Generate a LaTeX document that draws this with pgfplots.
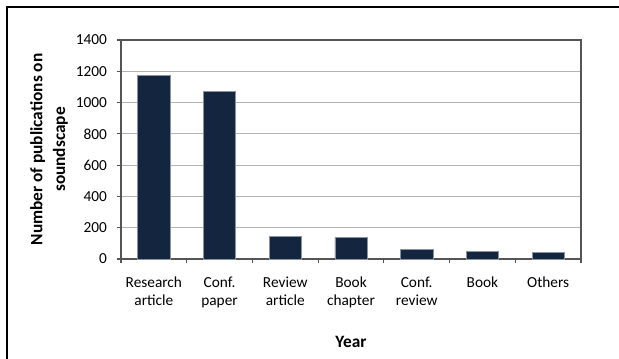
\documentclass[border=0pt]{standalone}
\usepackage{pgfplots}
\pgfplotsset{compat=1.18}
\usepackage{fontspec}
\setmainfont{Carlito}
\definecolor{barc}{HTML}{14253F}
\definecolor{gridc}{HTML}{B3B3B3}
\definecolor{axc}{HTML}{555555}
\begin{document}
\begin{tikzpicture}
\draw[line width=1.5pt,black] (5.25pt,263.25pt) rectangle (480pt,-15pt);
\begin{axis}[
  at={(90.75pt,74.25pt)}, anchor=south west,
  scale only axis, width=345pt, height=164.25pt,
  font=\fontsize{11.5}{13.5}\selectfont,
  /pgf/number format/assume math mode=true,
  /pgf/number format/1000 sep={},
  ybar, bar width=0.49,
  xmin=-0.5, xmax=6.5, ymin=0, ymax=1400,
  ytick={0,200,...,1400},
  xtick={0,...,6},
  xticklabels={Research\\article, Conf.\\paper, Review\\article, Book\\chapter, Conf.\\review, Book, Others},
  xticklabel style={align=center, yshift=-7pt},
  minor xtick={-0.5,0.5,...,6.5},
  xtick pos=bottom, ytick pos=left,
  xtick style={draw=none},
  minor x tick style={draw=axc, line width=0.8pt},
  ytick style={draw=axc, line width=0.8pt},
  tick align=outside, major tick length=3pt, minor tick length=3pt,
  ymajorgrids, grid style={gridc, line width=0.8pt},
  axis line style={axc, line width=0.8pt},
  ylabel={Number of publications on\\soundscape},
  ylabel style={font=\fontsize{13}{17}\selectfont\bfseries, align=center, at={(axis description cs:-0.1565,0.5)}, anchor=center},
  xlabel={Year},
  xlabel style={font=\fontsize{13}{15}\selectfont\bfseries, at={(axis description cs:0.5,-0.379)}, anchor=center},
  yticklabel style={xshift=-4pt},
]
\addplot[fill=barc, draw=barc!50!white, line width=0.4pt] coordinates {
(0,1174) (1,1072) (2,145) (3,139) (4,60) (5,47) (6,40)};
\end{axis}
\pgfresetboundingbox
\useasboundingbox (0pt,0pt) rectangle (464.25pt,268.5pt);
\end{tikzpicture}
\end{document}
